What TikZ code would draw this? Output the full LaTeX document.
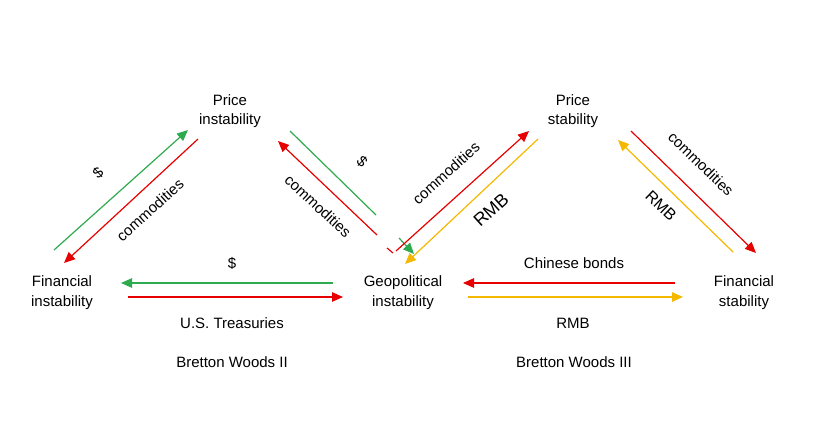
\documentclass[tikz,border=0pt]{standalone}
\usepackage{fontspec}
\setmainfont{Liberation Sans}
\usetikzlibrary{arrows.meta}
\definecolor{cgreen}{HTML}{2EAA4F}
\definecolor{cred}{HTML}{E60000}
\definecolor{cyellow}{HTML}{F5B800}
\begin{document}
\begin{tikzpicture}[x=1pt,y=-1pt,
 lbl/.style={font=\fontsize{15}{19.5}\selectfont, inner sep=0pt, align=center},
 arr/.style={line width=1.2pt, -{Triangle[length=11pt,width=9.5pt]}},
 ln/.style={line width=1.2pt}]
\useasboundingbox (0,0) rectangle (830,426);
% main nodes
\node[lbl] (pi) at (230,111) {Price\\instability};
\node[lbl] (fi) at (62,292.5) {Financial\\instability};
\node[lbl] (gi) at (403,292.5) {Geopolitical\\instability};
\node[lbl] (ps) at (573,111) {Price\\stability};
\node[lbl] (fs) at (744,292.5) {Financial\\stability};
\node[lbl] (bw2) at (232,362) {Bretton Woods II};
\node[lbl] (bw3) at (574,362) {Bretton Woods III};
% horizontal labels
\node[lbl] (ust) at (232,323) {U.S. Treasuries};
\node[lbl] (rmbb) at (573,323) {RMB};
\node[lbl] (dol) at (232,263) {\$};
\node[lbl] (cb) at (574,263) {Chinese bonds};
% rotated labels
\node[lbl, rotate=42] (d1) at (98,173) {\$};
\node[lbl, rotate=42] (c1) at (150,210) {commodities};
\node[lbl, rotate=-43] (d2) at (362,162) {\$};
\node[lbl, rotate=-43] (c2) at (318,206) {commodities};
\node[lbl, rotate=42] (c3) at (446,173) {commodities};
\node[lbl, rotate=42, font=\fontsize{18}{20}\selectfont] (r3) at (491,210) {RMB};
\node[lbl, rotate=-44] (c4) at (701,164) {commodities};
\node[lbl, rotate=-44, font=\fontsize{16}{18}\selectfont] (r4) at (661,206) {RMB};
% endpoints
\coordinate (a1s) at (54,250);  \coordinate (a1e) at (188,130);
\coordinate (a2s) at (198,139); \coordinate (a2e) at (64,263);
\coordinate (a3s) at (333,283); \coordinate (a3e) at (121,283);
\coordinate (a4s) at (128,297); \coordinate (a4e) at (343,297);
\coordinate (a5s) at (377,235); \coordinate (a5e) at (278,141);
\coordinate (a5a) at (387,248); \coordinate (a5b) at (393,253);
\coordinate (a6s) at (290,131); \coordinate (a6e) at (376,215);
\coordinate (a6a) at (399,238); \coordinate (a6b) at (414,254);
\coordinate (a7s) at (396,251); \coordinate (a7e) at (529,131);
\coordinate (a8s) at (538,139); \coordinate (a8e) at (405,264);
\coordinate (a9s) at (631,131); \coordinate (a9e) at (756,253);
\coordinate (a10s) at (733,252); \coordinate (a10e) at (618,140);
\coordinate (a11s) at (675,283); \coordinate (a11e) at (463,283);
\coordinate (a12s) at (468,297); \coordinate (a12e) at (683,297);
% arrows
\draw[arr, cgreen] (a1s) -- (a1e);
\draw[arr, cred] (a2s) -- (a2e);
\draw[arr, cgreen] (a3s) -- (a3e);
\draw[arr, cred] (a4s) -- (a4e);
\draw[arr, cred] (a5s) -- (a5e);
\draw[ln, cred] (a5a) -- (a5b);
\draw[ln, cgreen] (a6s) -- (a6e);
\draw[arr, cgreen] (a6a) -- (a6b);
\draw[arr, cred] (a7s) -- (a7e);
\draw[arr, cyellow] (a8s) -- (a8e);
\draw[arr, cred] (a9s) -- (a9e);
\draw[arr, cyellow] (a10s) -- (a10e);
\draw[arr, cred] (a11s) -- (a11e);
\draw[arr, cyellow] (a12s) -- (a12e);
\end{tikzpicture}
\end{document}
